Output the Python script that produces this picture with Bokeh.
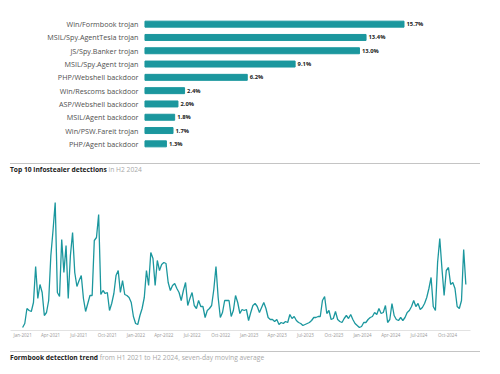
import pandas as pd
from bokeh.plotting import figure
from bokeh.models import FactorRange, Range1d, Div, FixedTicker, DatetimeTickFormatter
from bokeh.layouts import column
from bokeh.core.properties import value
from bokeh.embed import file_html
from bokeh.resources import INLINE

# ---------------- data ----------------
categories = [
    "Win/Formbook trojan", "MSIL/Spy.AgentTesla trojan", "JS/Spy.Banker trojan",
    "MSIL/Spy.Agent trojan", "PHP/Webshell backdoor", "Win/Rescoms backdoor",
    "ASP/Webshell backdoor", "MSIL/Agent backdoor", "Win/PSW.Fareit trojan",
    "PHP/Agent backdoor",
]
shares = [15.7, 13.4, 13.0, 9.1, 6.2, 2.4, 2.0, 1.8, 1.7, 1.3]
share_labels = [f"{v:.1f}%" for v in shares]

bar_title = "Top 10 infostealer detections"
bar_subtitle = "in H2 2024"
line_title = "Formbook detection trend"
line_subtitle = "from H1 2021 to H2 2024, seven-day moving average"

# weekly readings of the seven-day moving average (relative units), from Jan 2021
formbook = [
    3, 7, 22, 20, 19, 28, 64, 32, 46, 38,
    15, 18, 30, 75, 100, 128, 38, 34, 91, 58,
    85, 32, 75, 98, 58, 44, 50, 55, 32, 19,
    27, 35, 35, 90, 93, 116, 36, 40, 37, 38,
    20, 27, 37, 55, 60, 38, 50, 36, 35, 33,
    28, 14, 7, 6, 15, 22, 33, 60, 45, 78,
    72, 45, 70, 60, 66, 68, 67, 48, 40, 45,
    47, 42, 38, 30, 40, 48, 25, 32, 38, 25,
    22, 30, 24, 24, 13, 20, 22, 25, 41, 64,
    33, 13, 18, 30, 30, 30, 14, 20, 35, 28,
    17, 21, 20, 21, 10, 18, 25, 27, 24, 18,
    23, 28, 22, 13, 11, 11, 9, 11, 6, 8,
    7, 9, 8, 16, 12, 14, 10, 8, 7, 5,
    6, 7, 8, 10, 13, 13, 14, 14, 30, 34,
    17, 20, 11, 12, 19, 11, 9, 8, 12, 15,
    12, 16, 11, 7, 5, 3, 4, 8, 8, 11,
    13, 14, 18, 16, 22, 17, 18, 25, 8, 11,
    27, 15, 11, 10, 13, 10, 13, 18, 20, 24,
    30, 24, 27, 21, 23, 27, 33, 42, 53, 24,
    20, 68, 92, 62, 35, 60, 63, 46, 48, 42,
    24, 22, 30, 81, 46,
]
first_week = "2021-01-01"
tick_labels = [
    "Jan-2021", "Apr-2021", "Jul-2021", "Oct-2021",
    "Jan-2022", "Apr-2022", "Jul-2022", "Oct-2022",
    "Jan-2023", "Apr-2023", "Jul-2023", "Oct-2023",
    "Jan-2024", "Apr-2024", "Jul-2024", "Oct-2024",
]

TEAL = "#1b979e"
FONT = "Open Sans"
W = 500

# ---------------- bar chart ----------------
p1 = figure(width=W, height=156, output_backend="svg", toolbar_location=None,
            y_range=FactorRange(factors=list(reversed(categories))),
            x_range=Range1d(-8.15, 19.73),
            min_border_left=10, min_border_right=30, min_border_top=17, min_border_bottom=6)
p1.hbar(y=categories, right=shares, left=0, height=0.45, color=TEAL)
p1.text(x=shares, y=categories, text=share_labels, x_offset=2.5,
        text_baseline="middle", text_align="left", text_font=value(FONT),
        text_font_size="5.8px", text_font_style="bold", text_color="#222222")
p1.text(x=[0] * len(categories), y=categories, text=categories, x_offset=-6.5,
        text_baseline="middle", text_align="right", text_font=value(FONT),
        text_font_size="7.2px", text_color="#505050")
p1.axis.visible = False
p1.grid.visible = False
p1.outline_line_color = None


def title_div(bold, light, height):
    html = (
        f"<div style=\"font-family:'{FONT}';width:470px;margin-left:10px;padding-top:7px\">"
        '<div style="height:1px;background:#c4c4c4;width:470px"></div>'
        '<div style="padding-top:1px;font-size:6.7px;line-height:10px;color:#222222;white-space:nowrap">'
        f'<b>{bold}</b> <span style="color:#a8a8a8">{light}</span></div></div>'
    )
    return Div(text=html, width=W, height=height, margin=(0, 0, 0, 0))


d1 = title_div(bar_title, bar_subtitle, 24)

# ---------------- line chart ----------------
dates = pd.date_range(first_week, periods=len(formbook), freq="7D")
x_start = pd.Timestamp("2020-11-23").timestamp() * 1000
x_end = pd.Timestamp("2024-12-14").timestamp() * 1000
p2 = figure(width=W, height=164, output_backend="svg", toolbar_location=None,
            x_axis_type="datetime",
            x_range=Range1d(x_start, x_end),
            y_range=Range1d(0, 135),
            min_border_left=10, min_border_right=30, min_border_top=15, min_border_bottom=14)
p2.line(x=dates, y=formbook, line_color=TEAL, line_width=1.3)
p2.yaxis.visible = False
p2.grid.visible = False
p2.outline_line_color = None
tick_dates = [pd.to_datetime(t, format="%b-%Y") for t in tick_labels]
p2.xaxis.ticker = FixedTicker(ticks=[d.timestamp() * 1000 for d in tick_dates])
fmt = "%b-%Y"
p2.xaxis.formatter = DatetimeTickFormatter(days=fmt, months=fmt, years=fmt, hours=fmt)
p2.xaxis.axis_line_color = "#e2e2e2"
p2.xaxis.major_tick_line_color = None
p2.xaxis.minor_tick_line_color = None
p2.xaxis.major_tick_out = 0
p2.xaxis.major_tick_in = 0
p2.xaxis.major_label_standoff = 1
p2.xaxis.major_label_text_font = FONT
p2.xaxis.major_label_text_font_size = "4.5px"
p2.xaxis.major_label_text_color = "#999999"

d2 = title_div(line_title, line_subtitle, 22)

layout = column(p1, d1, p2, d2, spacing=0)
open("out.html", "w").write(file_html(layout, INLINE))
